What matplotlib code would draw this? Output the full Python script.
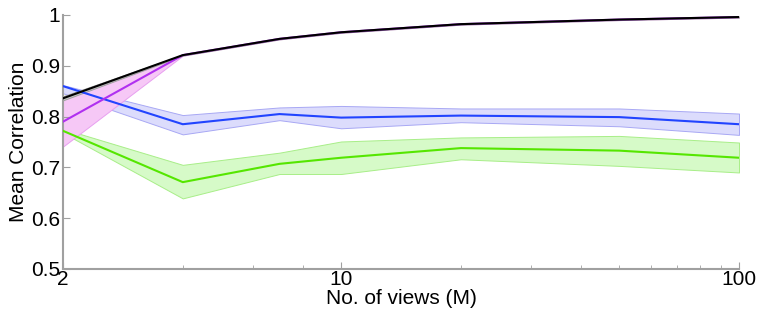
import matplotlib.pyplot as plt
from matplotlib.ticker import FixedLocator, NullFormatter

plt.rcParams['font.family'] = ['Liberation Sans', 'DejaVu Sans']
fsize = 15

# Number of views
views = [2, 4, 7, 10, 20, 50, 100]

# Mean correlation per method (line) and band limits (low / high)
black_mean = [0.836, 0.921, 0.953, 0.966, 0.982, 0.991, 0.996]
black_low = [0.832, 0.920, 0.952, 0.965, 0.981, 0.990, 0.995]
black_high = [0.840, 0.922, 0.954, 0.967, 0.983, 0.992, 0.997]

magenta_mean = [0.790, 0.921, 0.953, 0.966, 0.982, 0.991, 0.996]
magenta_low = [0.741, 0.920, 0.952, 0.965, 0.981, 0.990, 0.995]
magenta_high = [0.834, 0.922, 0.954, 0.967, 0.983, 0.992, 0.997]

blue_mean = [0.860, 0.785, 0.805, 0.798, 0.802, 0.799, 0.785]
blue_low = [0.846, 0.765, 0.793, 0.777, 0.789, 0.781, 0.764]
blue_high = [0.862, 0.803, 0.818, 0.821, 0.816, 0.816, 0.806]

green_mean = [0.772, 0.671, 0.707, 0.719, 0.738, 0.733, 0.719]
green_low = [0.768, 0.639, 0.687, 0.687, 0.716, 0.703, 0.690]
green_high = [0.776, 0.705, 0.729, 0.751, 0.759, 0.762, 0.749]

series = [
    (green_mean, green_low, green_high, '#55e600', '#d6fac8', '#a8ee88'),
    (blue_mean, blue_low, blue_high, '#2244ff', '#dcdcfc', '#a8a8f4'),
    (magenta_mean, magenta_low, magenta_high, '#b030f0', '#f6c8f6', '#e8a0f0'),
    (black_mean, black_low, black_high, '#000000', '#c8c8c8', '#a0a0a0'),
]

fig = plt.figure(figsize=(7.61, 3.18), dpi=100)
ax = fig.add_axes([63 / 761, 1 - 269 / 318, 676 / 761, 254 / 318])

for mean, low, high, lc, fc, ec in series:
    ax.fill_between(views, low, high, facecolor=fc, edgecolor=ec, linewidth=0.7, zorder=1)
for mean, low, high, lc, fc, ec in series:
    ax.plot(views, mean, color=lc, linewidth=1.5, zorder=3)

ax.set_xscale('log')
ax.set_xlim(2, 100)
ax.set_ylim(0.5, 1.0)

ax.xaxis.set_major_locator(FixedLocator([2, 10, 100]))
ax.set_xticklabels(['2', '10', '100'])
ax.xaxis.set_minor_locator(FixedLocator([4, 6, 8, 20, 30, 40, 50, 60, 70, 80, 90]))
ax.xaxis.set_minor_formatter(NullFormatter())
ax.set_yticks([0.5, 0.6, 0.7, 0.8, 0.9, 1.0])
ax.set_yticklabels(['0.5', '0.6', '0.7', '0.8', '0.9', '1'])

grey = '#a0a0a0'
for side in ['top', 'right']:
    ax.spines[side].set_visible(False)
for side in ['left', 'bottom']:
    ax.spines[side].set_color(grey)
    ax.spines[side].set_linewidth(1.5)
ax.tick_params(which='both', direction='in', color=grey, labelsize=fsize)
ax.tick_params(axis='y', pad=2)
ax.tick_params(axis='x', pad=1)
ax.tick_params(which='major', length=5)
ax.tick_params(which='minor', length=3)

ax.set_xlabel('No. of views (M)', fontsize=fsize, labelpad=0)
ax.set_ylabel('Mean Correlation', fontsize=fsize, labelpad=2)

plt.savefig('out.png', dpi=100)
